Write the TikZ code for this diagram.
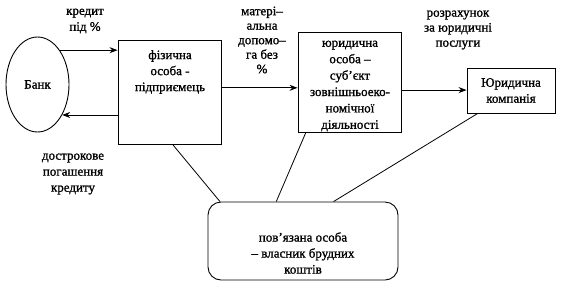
\documentclass[tikz,border=0pt]{standalone}
\usepackage{fontspec}
\setmainfont[FakeBold=1.2]{Liberation Serif}
\usetikzlibrary{shapes.geometric,arrows.meta,calc}
\begin{document}
\begin{tikzpicture}[x=1pt,y=-1pt,
  every node/.style={font=\fontsize{13}{16}\selectfont, inner sep=0pt},
  box/.style={draw, line width=0.9pt, rectangle},
  txt/.style={align=center},
  arr/.style={line width=0.9pt, -{Stealth[length=8pt,width=6pt]}},
  link/.style={line width=0.8pt}]
\useasboundingbox (0,0) rectangle (561,285);
% Bank
\node[draw, ellipse, line width=0.9pt, minimum width=63pt, minimum height=95pt] (bank) at (37.5,84.5) {Банк};
% box 1
\node[box, minimum width=103pt, minimum height=104pt] (b1) at (169.5,92) {};
\node[txt] (b1t) at (170,72) {фізична\\особа -\\підприємець};
% box 2
\node[box, minimum width=103pt, minimum height=100pt] (b2) at (349.5,82) {};
\node[txt, font=\fontsize{13}{16.4}\selectfont] (b2t) at (350,86) {юридична\\особа –\\суб'єкт\\зовнішньоеко-\\номічної\\діяльності};
% box 3
\node[box, minimum width=88pt, minimum height=45pt, txt] (b3) at (511,90.5) {Юридична\\компанія};
% bottom box
\node[draw, line width=0.9pt, rounded corners=13pt, minimum width=190pt, minimum height=78pt] (b4) at (303,241) {};
\node[txt] (b4t) at (303,253) {пов'язана особа\\– власник брудних\\коштів};
% labels
\node[txt] (l1) at (85,21) {кредит\\під \%};
\node[txt] (l2) at (73,174) {дострокове\\погашення\\кредиту};
\node[txt, font=\fontsize{13}{14.5}\selectfont] (l3) at (262,40) {матері–\\альна\\допомо–\\га без\\\%};
\node[txt, font=\fontsize{13}{15}\selectfont] (l4) at (458,30) {розрахунок\\за юридичні\\послуги};
% arrow anchor points
\coordinate (a1s) at ($(b1.north east)!0.46!(b1.south east)$);
\coordinate (a2s) at ($(b2.north east)!0.58!(b2.south east)$);
% arrows
\draw[arr] (bank.57) -- (bank.57 -| b1.west);
\draw[arr] (b1.west |- bank.-51) -- (bank.-51);
\draw[arr] (a1s) -- (a1s -| b2.west);
\draw[arr] (a2s) -- (a2s -| b3.west);
% links
\draw[link] ($(b1.south west)!0.53!(b1.south east)$) -- ($(b4.north west)!0.065!(b4.north east)$);
\draw[link] ($(b2.south west)!0.08!(b2.south east)$) -- ($(b4.north west)!0.36!(b4.north east)$);
\draw[link] ($(b3.south west)!0.125!(b3.south east)$) -- ($(b4.north west)!0.66!(b4.north east)$);
\end{tikzpicture}
\end{document}
